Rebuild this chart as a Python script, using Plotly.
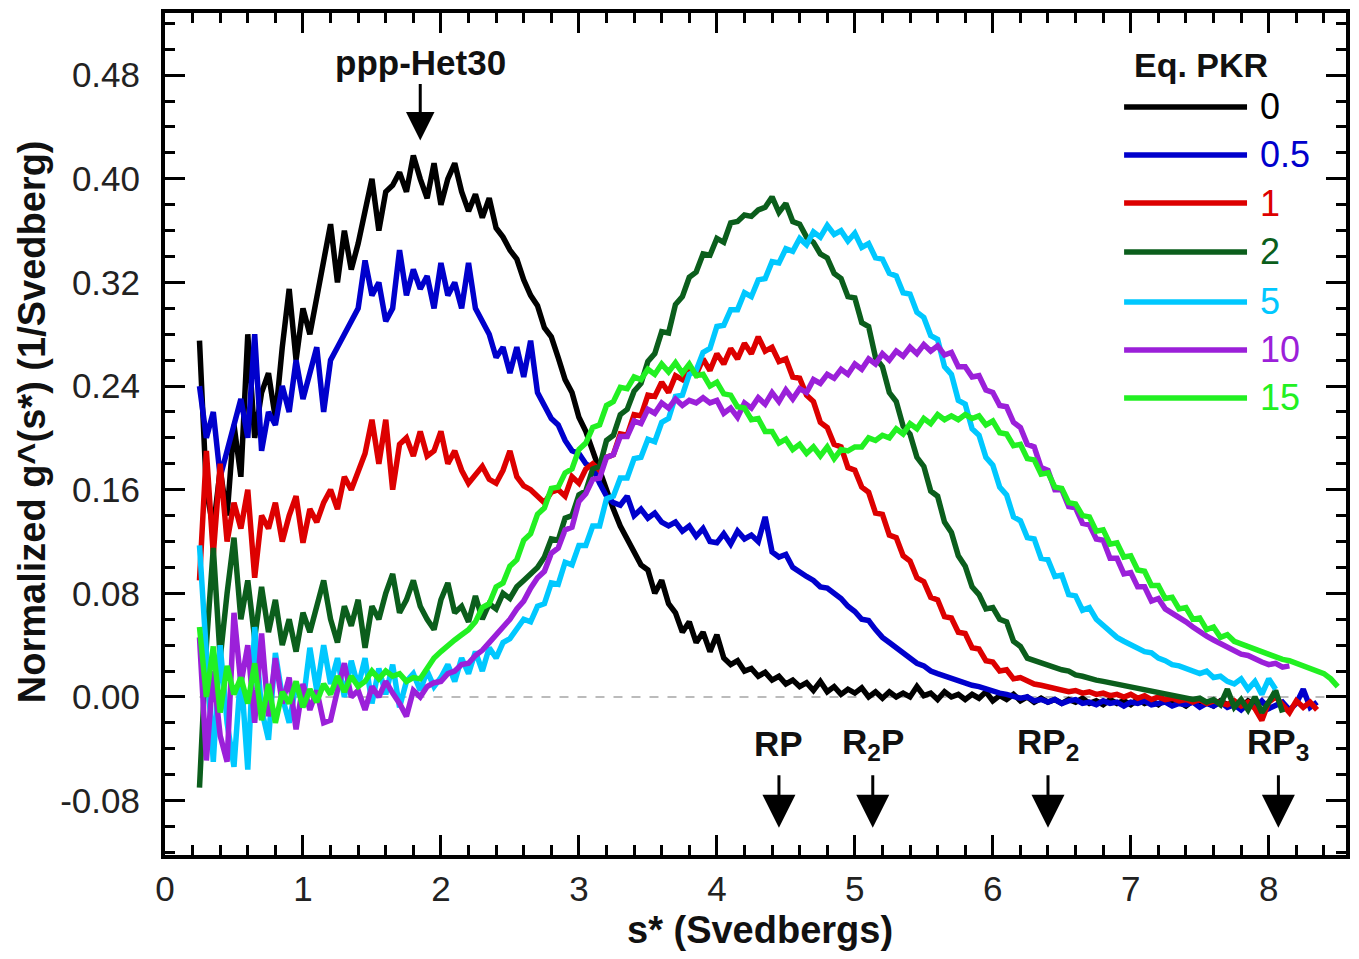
import plotly.graph_objects as go

S_START = 0.25
S_STEP = 0.05

SERIES_NAMES = ["0", "0.5", "1", "2", "5", "10", "15"]
SERIES_COLORS = ["#000000", "#0000cc", "#dd0000", "#0b5e1c", "#00c8ff", "#9b20d9", "#22f022"]

PKR_0 = [0.275,0.16,0.13,0.175,0.14,0.21,0.17,0.28,0.20,0.235,
 0.25,0.215,0.27,0.315,0.26,0.30,0.28,0.31,0.335,0.365,
 0.32,0.36,0.33,0.35,0.375,0.40,0.36,0.39,0.395,0.405,
 0.39,0.418,0.40,0.385,0.412,0.38,0.40,0.412,0.39,0.375,
 0.388,0.37,0.385,0.362,0.355,0.345,0.338,0.322,0.31,0.302,
 0.285,0.278,0.262,0.245,0.235,0.216,0.205,0.19,0.172,0.158,
 0.145,0.132,0.122,0.112,0.102,0.098,0.08,0.09,0.072,0.065,
 0.05,0.058,0.042,0.05,0.035,0.048,0.03,0.025,0.028,0.02,
 0.022,0.016,0.019,0.013,0.016,0.01,0.013,0.008,0.011,0.005,
 0.012,0.004,0.008,0.002,0.006,0.003,0.007,0.0,0.004,-0.001,
 0.004,0.0,0.003,0.0,0.008,0.001,0.003,-0.002,0.004,0.0,
 0.002,-0.002,0.002,-0.001,0.004,-0.003,0.001,-0.002,0.002,-0.003,
 0.0,-0.004,-0.001,-0.004,-0.002,-0.005,-0.002,-0.004,-0.001,-0.005,
 -0.003,-0.006,-0.002,-0.005,-0.003,-0.006,-0.002,-0.005,-0.003,-0.006,
 -0.002,-0.005,-0.004,-0.007,-0.003,-0.006,-0.004,-0.007,-0.003,-0.006,
 -0.004,-0.008,-0.003,-0.006,-0.004,-0.007]

PKR_05 = [0.24,0.20,0.22,0.17,0.19,0.21,0.23,0.20,0.28,0.19,
 0.22,0.21,0.24,0.22,0.26,0.23,0.25,0.27,0.22,0.26,
 0.27,0.28,0.29,0.30,0.337,0.31,0.32,0.29,0.30,0.345,
 0.31,0.33,0.315,0.325,0.30,0.335,0.31,0.32,0.30,0.335,
 0.30,0.29,0.28,0.262,0.27,0.25,0.27,0.247,0.275,0.235,
 0.225,0.215,0.21,0.198,0.19,0.188,0.18,0.177,0.165,0.155,
 0.15,0.148,0.155,0.14,0.145,0.138,0.142,0.135,0.132,0.135,
 0.128,0.132,0.124,0.13,0.12,0.119,0.126,0.118,0.128,0.122,
 0.125,0.12,0.139,0.112,0.108,0.11,0.1,0.096,0.093,0.09,
 0.085,0.084,0.08,0.076,0.07,0.066,0.06,0.059,0.052,0.046,
 0.042,0.038,0.033,0.03,0.026,0.024,0.02,0.018,0.016,0.015,
 0.012,0.011,0.009,0.008,0.006,0.004,0.003,0.002,0.0,-0.001,
 0.0,-0.003,-0.002,-0.004,-0.002,-0.005,-0.003,-0.002,-0.005,-0.004,
 -0.006,-0.003,-0.005,-0.004,-0.007,-0.004,-0.005,-0.003,-0.006,-0.005,
 -0.004,-0.007,-0.005,-0.006,-0.004,-0.008,-0.005,-0.007,-0.004,-0.008,
 -0.006,-0.01,-0.005,-0.008,-0.003,-0.009,-0.006,-0.004,-0.01,-0.005,
 0.006,-0.008,-0.004]

PKR_1 = [0.09,0.19,0.11,0.18,0.12,0.15,0.13,0.16,0.092,0.14,
 0.13,0.15,0.12,0.14,0.155,0.119,0.145,0.135,0.15,0.16,
 0.145,0.17,0.16,0.175,0.188,0.214,0.18,0.214,0.16,0.195,
 0.20,0.186,0.205,0.186,0.19,0.205,0.18,0.19,0.175,0.165,
 0.172,0.178,0.168,0.165,0.175,0.19,0.17,0.163,0.16,0.155,
 0.15,0.158,0.16,0.155,0.17,0.165,0.176,0.18,0.175,0.185,
 0.187,0.203,0.202,0.218,0.217,0.233,0.232,0.243,0.235,0.248,
 0.245,0.253,0.249,0.261,0.252,0.265,0.257,0.269,0.261,0.273,
 0.265,0.278,0.267,0.27,0.259,0.261,0.247,0.246,0.233,0.228,
 0.212,0.208,0.195,0.193,0.177,0.175,0.162,0.158,0.142,0.141,
 0.125,0.123,0.109,0.105,0.092,0.089,0.077,0.075,0.062,0.061,
 0.05,0.049,0.038,0.037,0.028,0.027,0.02,0.021,0.014,0.015,
 0.012,0.01,0.009,0.008,0.006,0.006,0.004,0.005,0.003,0.004,
 0.002,0.003,0.001,0.002,0.0,0.002,-0.001,0.001,-0.002,0.0,
 -0.002,-0.001,-0.003,-0.002,-0.004,-0.002,-0.005,-0.003,-0.004,-0.006,
 -0.003,-0.007,-0.004,-0.009,-0.018,-0.004,0.0,-0.006,-0.012,-0.003,
 -0.008,-0.004,-0.01]

PKR_2 = [-0.07,0.04,0.115,0.03,0.08,0.123,0.06,0.09,0.045,0.085,
 0.05,0.075,0.04,0.06,0.035,0.065,0.05,0.07,0.09,0.06,
 0.042,0.07,0.055,0.075,0.038,0.07,0.06,0.08,0.095,0.065,
 0.075,0.09,0.07,0.06,0.052,0.075,0.088,0.065,0.07,0.058,
 0.078,0.06,0.072,0.068,0.08,0.076,0.085,0.09,0.095,0.10,
 0.108,0.122,0.121,0.138,0.14,0.156,0.159,0.176,0.178,0.198,
 0.202,0.218,0.222,0.236,0.242,0.259,0.265,0.282,0.281,0.303,
 0.309,0.324,0.328,0.342,0.341,0.354,0.351,0.366,0.367,0.372,
 0.371,0.376,0.378,0.386,0.374,0.381,0.367,0.365,0.355,0.351,
 0.342,0.339,0.327,0.323,0.309,0.308,0.289,0.286,0.262,0.255,
 0.235,0.228,0.209,0.203,0.185,0.178,0.159,0.155,0.135,0.127,
 0.109,0.101,0.085,0.079,0.068,0.069,0.06,0.058,0.043,0.039,
 0.03,0.028,0.026,0.024,0.022,0.021,0.02,0.017,0.016,0.014,
 0.013,0.012,0.011,0.01,0.008,0.008,0.006,0.005,0.004,0.003,
 0.002,0.001,0.0,0.0,-0.002,-0.001,-0.004,-0.002,-0.006,0.006,
 -0.008,-0.002,-0.01,0.0,-0.012,-0.004,0.005,-0.012]

PKR_5 = [0.117,0.03,-0.05,0.04,-0.02,-0.054,0.02,-0.056,0.054,-0.01,
 -0.033,0.034,0.0,-0.02,0.01,-0.005,0.038,0.005,0.04,0.01,
 0.03,0.0,0.028,0.008,0.03,-0.005,0.022,0.002,0.025,-0.008,
 0.012,0.018,0.005,0.02,0.008,0.015,0.025,0.012,0.03,0.018,
 0.035,0.02,0.038,0.03,0.042,0.045,0.052,0.06,0.058,0.07,
 0.072,0.088,0.087,0.104,0.102,0.117,0.117,0.132,0.132,0.153,
 0.155,0.169,0.169,0.184,0.185,0.199,0.197,0.212,0.215,0.232,
 0.233,0.249,0.252,0.266,0.269,0.286,0.287,0.299,0.299,0.312,
 0.309,0.322,0.323,0.336,0.335,0.346,0.344,0.354,0.349,0.359,
 0.355,0.364,0.357,0.36,0.352,0.358,0.347,0.35,0.339,0.338,
 0.327,0.325,0.312,0.311,0.297,0.293,0.279,0.276,0.255,0.249,
 0.229,0.226,0.207,0.202,0.185,0.179,0.162,0.156,0.139,0.136,
 0.123,0.122,0.107,0.106,0.093,0.094,0.079,0.078,0.067,0.069,
 0.06,0.055,0.05,0.046,0.043,0.04,0.038,0.035,0.034,0.03,
 0.028,0.025,0.024,0.022,0.02,0.018,0.02,0.015,0.016,0.012,
 0.01,0.014,0.006,0.012,0.002,0.014,0.006]

PKR_10 = [0.046,-0.049,0.02,-0.03,-0.05,0.065,0.01,0.04,-0.02,0.049,
 -0.015,0.03,-0.005,0.015,-0.025,0.01,-0.01,0.005,-0.02,-0.018,
 0.005,0.026,0.0,0.005,-0.01,0.008,0.0,0.012,0.003,-0.005,
 -0.015,0.005,0.0,0.008,0.011,0.012,0.018,0.02,0.025,0.026,
 0.032,0.036,0.042,0.048,0.055,0.06,0.068,0.074,0.084,0.092,
 0.097,0.111,0.115,0.129,0.131,0.151,0.157,0.168,0.169,0.185,
 0.187,0.201,0.201,0.213,0.211,0.222,0.219,0.227,0.223,0.23,
 0.225,0.229,0.227,0.231,0.227,0.229,0.219,0.223,0.216,0.227,
 0.223,0.231,0.226,0.235,0.228,0.237,0.23,0.238,0.235,0.245,
 0.242,0.249,0.246,0.253,0.249,0.257,0.253,0.261,0.257,0.265,
 0.26,0.267,0.263,0.27,0.265,0.272,0.267,0.271,0.264,0.266,
 0.255,0.255,0.247,0.248,0.237,0.235,0.225,0.224,0.212,0.208,
 0.195,0.193,0.177,0.175,0.16,0.16,0.147,0.146,0.134,0.133,
 0.122,0.121,0.107,0.107,0.095,0.096,0.085,0.085,0.074,0.076,
 0.068,0.065,0.061,0.058,0.054,0.05,0.047,0.044,0.041,0.039,
 0.036,0.033,0.032,0.029,0.027,0.025,0.026,0.023,0.024]

PKR_15 = [0.054,0.0,0.039,-0.012,0.024,0.002,0.015,-0.005,0.026,-0.018,
 0.01,-0.02,0.004,-0.005,0.012,-0.008,0.006,-0.004,0.01,0.002,
 0.016,0.004,0.016,0.008,0.012,0.02,0.014,0.02,0.016,0.018,
 0.012,0.015,0.014,0.022,0.03,0.035,0.04,0.044,0.048,0.052,
 0.058,0.069,0.072,0.085,0.088,0.101,0.106,0.121,0.126,0.141,
 0.146,0.161,0.162,0.173,0.176,0.191,0.196,0.208,0.21,0.225,
 0.228,0.239,0.238,0.247,0.245,0.253,0.249,0.257,0.251,0.258,
 0.25,0.257,0.248,0.249,0.24,0.243,0.234,0.233,0.224,0.223,
 0.214,0.215,0.205,0.205,0.196,0.199,0.191,0.195,0.188,0.193,
 0.186,0.193,0.184,0.191,0.19,0.193,0.193,0.2,0.198,0.202,
 0.2,0.207,0.203,0.211,0.207,0.215,0.211,0.218,0.214,0.217,
 0.214,0.218,0.215,0.217,0.21,0.213,0.204,0.203,0.194,0.195,
 0.184,0.183,0.172,0.173,0.162,0.161,0.15,0.149,0.14,0.139,
 0.128,0.129,0.118,0.119,0.108,0.109,0.098,0.097,0.086,0.086,
 0.076,0.077,0.068,0.069,0.06,0.061,0.052,0.054,0.046,0.048,
 0.043,0.041,0.038,0.036,0.034,0.032,0.031,0.029,0.028,0.026,
 0.024,0.022,0.02,0.018,0.014,0.008]

SERIES = [PKR_0, PKR_05, PKR_1, PKR_2, PKR_5, PKR_10, PKR_15]

X_TICKS = [0, 1, 2, 3, 4, 5, 6, 7, 8]
Y_TICKS = [-0.08, 0.0, 0.08, 0.16, 0.24, 0.32, 0.40, 0.48]

ARROW_LABELS = ["RP", "R<sub>2</sub>P", "RP<sub>2</sub>", "RP<sub>3</sub>"]
ARROW_S = [4.45, 5.13, 6.40, 8.07]
PEAK_LABEL = "ppp-Het30"
PEAK_S = 1.85

FONT = "Arial, Liberation Sans, sans-serif"

fig = go.Figure()
for name, color, ys in zip(SERIES_NAMES, SERIES_COLORS, SERIES):
    xs = [round(S_START + S_STEP * i, 2) for i in range(len(ys))]
    fig.add_trace(go.Scatter(x=xs, y=ys, mode="lines", name=name,
                             line=dict(color=color, width=5.5), showlegend=False))

# zero reference line
fig.add_shape(type="line", xref="x", yref="y", x0=0.25, x1=8.5, y0=0, y1=0,
              line=dict(color="#bbbbbb", width=2, dash="dash"), layer="below")

ann = []
# axis titles
ann.append(dict(text="<b>s* (Svedbergs)</b>", xref="paper", yref="paper", x=0.504, y=-0.089,
                xanchor="center", yanchor="middle",
                showarrow=False, font=dict(size=38, color="#111", family=FONT)))
ann.append(dict(text="<b>Normalized g^(s*) (1/Svedberg)</b>", xref="paper", yref="paper",
                x=-0.1126, y=0.514, textangle=-90, xanchor="center", yanchor="middle",
                showarrow=False, font=dict(size=38, color="#111", family=FONT)))

# peak annotation
ann.append(dict(text="<b>%s</b>" % PEAK_LABEL, x=PEAK_S, y=0.49, xref="x", yref="y",
                xanchor="center", yanchor="middle",
                showarrow=False, font=dict(size=35, color="#111", family=FONT)))
ann.append(dict(text="", x=PEAK_S, y=0.4295, xref="x", yref="y", showarrow=True,
                ax=0, ay=-58, arrowhead=2, arrowsize=1.9, arrowwidth=3, arrowcolor="black"))

for lab, s in zip(ARROW_LABELS, ARROW_S):
    ann.append(dict(text="<b>%s</b>" % lab, x=s, y=-0.036, xref="x", yref="y",
                    xanchor="center", yanchor="middle",
                    showarrow=False, font=dict(size=35, color="#111", family=FONT)))
    ann.append(dict(text="", x=s, y=-0.101, xref="x", yref="y", showarrow=True,
                    ax=0, ay=-54, arrowhead=2, arrowsize=2.2, arrowwidth=3, arrowcolor="black"))

# legend drawn manually
ann.append(dict(text="<b>Eq. PKR</b>", xref="paper", yref="paper", x=0.8772, y=0.9382,
                xanchor="center", yanchor="middle",
                showarrow=False, font=dict(size=34, color="#111", family=FONT)))
leg_y = [0.8884, 0.8314, 0.7743, 0.7162, 0.6568, 0.5998, 0.5428]
for name, color, yy in zip(SERIES_NAMES, SERIES_COLORS, leg_y):
    fig.add_shape(type="line", xref="paper", yref="paper", x0=0.8121, x1=0.9162, y0=yy, y1=yy,
                  line=dict(color=color, width=5.5))
    ann.append(dict(text=name, xref="paper", yref="paper", x=0.9255, y=yy,
                    xanchor="left", yanchor="middle", showarrow=False,
                    font=dict(size=36, color=color, family=FONT)))

fig.update_layout(annotations=ann)

axis_common = dict(showgrid=False, zeroline=False, showline=True, linewidth=4, linecolor="black",
                   mirror="allticks", ticks="inside", ticklen=20, tickwidth=3, tickcolor="black",
                   tickfont=dict(size=35, color="#222", family=FONT))
fig.update_xaxes(range=[0, 8.56], tickvals=X_TICKS, ticktext=[str(v) for v in X_TICKS],
                 minor=dict(ticks="inside", ticklen=10, tickwidth=3, dtick=0.2, tick0=0, tickcolor="black"),
                 ticklabelstandoff=0, **axis_common)
fig.update_yaxes(range=[-0.122, 0.528], tickvals=Y_TICKS, ticktext=["%.2f" % v for v in Y_TICKS],
                 minor=dict(ticks="inside", ticklen=10, tickwidth=3, dtick=0.02, tick0=0, tickcolor="black"),
                 ticklabelstandoff=14, **axis_common)

# page body has an 8px default margin; size the figure so the plot area lands where the reference has it
fig.update_layout(width=1351, height=951, margin=dict(l=157, r=13, t=5, b=104, autoexpand=False),
                  plot_bgcolor="white", paper_bgcolor="white", showlegend=False,
                  font=dict(family=FONT))

fig.write_html("out.html")
